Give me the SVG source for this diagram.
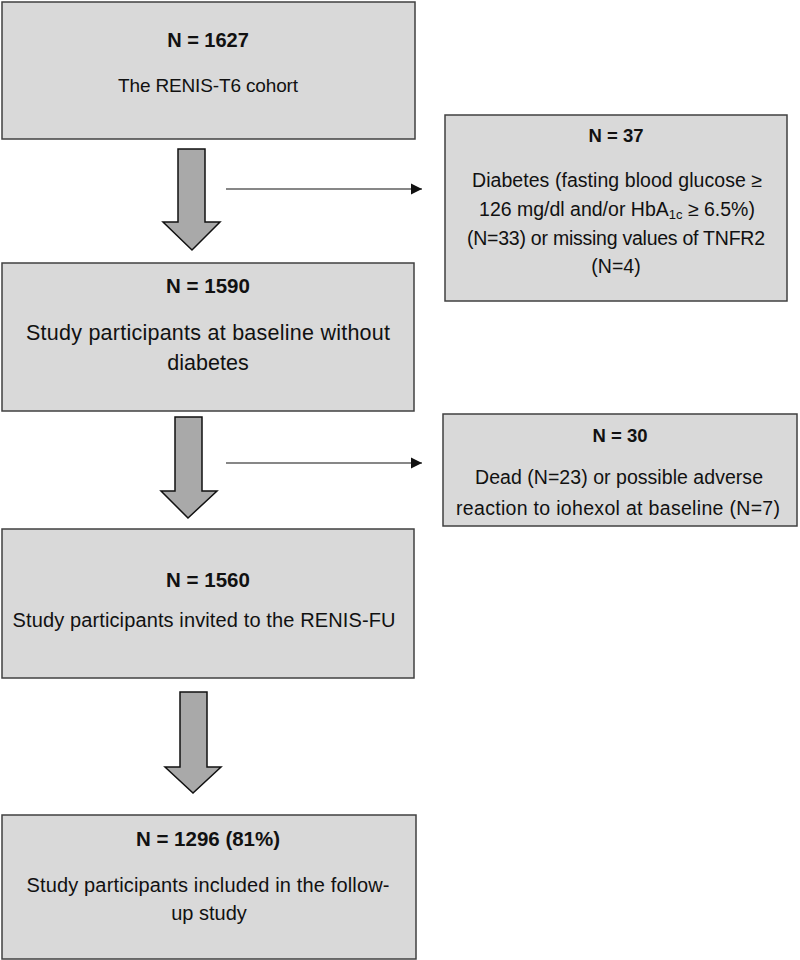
<svg xmlns="http://www.w3.org/2000/svg" width="800" height="960" viewBox="0 0 800 960">
<style>
.box{fill:#d9d9d9;stroke:#404040;stroke-width:1.5}
.blk{fill:#a9a9a9;stroke:#111;stroke-width:1.5;stroke-linejoin:miter}
.ln{stroke:#111;stroke-width:1.2;fill:none}
text{font-family:"Liberation Sans",Arial,sans-serif;fill:#111;text-anchor:middle}
.h{font-weight:bold}
</style>
<defs>
<marker id="ah" markerUnits="userSpaceOnUse" markerWidth="12" markerHeight="12" refX="11" refY="6" orient="auto">
<path d="M0,0.5 L11,6 L0,11.5 Z" fill="#111"/>
</marker>
</defs>
<rect width="800" height="960" fill="#fff"/>

<g id="n1627">
<rect class="box" x="2" y="2" width="413" height="137"/>
<text class="h" x="208" y="47" font-size="20">N = 1627</text>
<text x="208" y="92" font-size="19" textLength="180" lengthAdjust="spacing">The RENIS-T6 cohort</text>
</g>

<g id="n37">
<rect class="box" x="445" y="115" width="342" height="186"/>
<text class="h" x="616" y="142" font-size="18.5">N = 37</text>
<text x="617" y="187" font-size="19.5" textLength="290" lengthAdjust="spacing">Diabetes (fasting blood glucose ≥</text>
<text x="617" y="216" font-size="19.5">126 mg/dl and/or HbA<tspan font-size="13" dy="3">1c</tspan><tspan dy="-3"> ≥ 6.5%)</tspan></text>
<text x="616" y="245" font-size="19.5" textLength="298" lengthAdjust="spacing">(N=33) or missing values of TNFR2</text>
<text x="616" y="273" font-size="19.5">(N=4)</text>
</g>

<g id="n1590">
<rect class="box" x="2" y="263" width="412" height="148"/>
<text class="h" x="208" y="293" font-size="20.5">N = 1590</text>
<text x="208" y="340" font-size="21.5" textLength="364" lengthAdjust="spacing">Study participants at baseline without</text>
<text x="208" y="370" font-size="21.5">diabetes</text>
</g>

<g id="n30">
<rect class="box" x="443" y="414" width="354" height="112"/>
<text class="h" x="620" y="442" font-size="18.5">N = 30</text>
<text x="619" y="484" font-size="19.5" textLength="288" lengthAdjust="spacing">Dead (N=23) or possible adverse</text>
<text x="618" y="515" font-size="19.5" textLength="324" lengthAdjust="spacing">reaction to iohexol at baseline (N=7)</text>
</g>

<g id="n1560">
<rect class="box" x="2" y="529" width="412" height="149"/>
<text class="h" x="208" y="587" font-size="20.5">N = 1560</text>
<text x="204" y="627" font-size="20" textLength="383" lengthAdjust="spacing">Study participants invited to the RENIS-FU</text>
</g>

<g id="n1296">
<rect class="box" x="2" y="815" width="414" height="144"/>
<text class="h" x="208" y="846" font-size="20.5">N = 1296 (81%)</text>
<text x="208" y="892" font-size="20" textLength="363" lengthAdjust="spacing">Study participants included in the follow-</text>
<text x="209" y="920" font-size="20">up study</text>
</g>

<g id="connectors">
<path class="blk" d="M178,149 H205 V222 H220 L192,250 L163,222 H178 Z"/>
<path class="blk" d="M175,417 H202 V491 H217 L188,518 L161,491 H175 Z"/>
<path class="blk" d="M180,692 H207 V767 H221 L193,793 L165,767 H180 Z"/>
<line class="ln" x1="226" y1="189" x2="422" y2="189" marker-end="url(#ah)"/>
<line class="ln" x1="226" y1="463" x2="422" y2="463" marker-end="url(#ah)"/>
</g>
</svg>
